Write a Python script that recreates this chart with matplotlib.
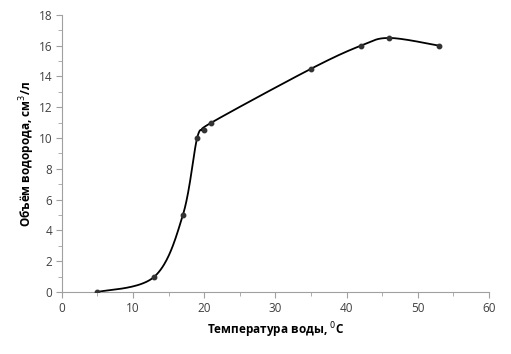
import numpy as np
import matplotlib
matplotlib.use("Agg")
import matplotlib.pyplot as plt
from matplotlib.ticker import MultipleLocator

temperature = [5, 13, 17, 19, 20, 21, 35, 42, 46, 53]
hydrogen = [0, 1, 5, 10, 10.5, 11, 14.5, 16, 16.5, 16]

plt.rcParams['font.family'] = ['Open Sans', 'DejaVu Sans']

fig = plt.figure(figsize=(5.11, 3.54), dpi=100)
ax = fig.add_axes([0.121, 0.175, 0.836, 0.783])
ax.set_xlim(0, 60)
ax.set_ylim(0, 18)

# Excel-style smoothing (Bezier, 1/6 tension) in pixel-like space
W, H = 427.0, 277.0
sx, sy = W / 60.0, H / 18.0
P = np.column_stack([np.array(temperature) * sx, np.array(hydrogen) * sy])
n = len(P)
curve = []
t = np.linspace(0, 1, 40)
for i in range(n - 1):
    p0 = P[max(i - 1, 0)]
    p1 = P[i]
    p2 = P[i + 1]
    p3 = P[min(i + 2, n - 1)]
    c1 = p1 + (p2 - p0) / 6.0
    c2 = p2 - (p3 - p1) / 6.0
    seg = ((1 - t)[:, None] ** 3) * p1 + 3 * ((1 - t)[:, None] ** 2) * t[:, None] * c1 \
        + 3 * (1 - t)[:, None] * (t[:, None] ** 2) * c2 + (t[:, None] ** 3) * p2
    curve.append(seg)
curve = np.vstack(curve)
ax.plot(curve[:, 0] / sx, curve[:, 1] / sy, color='black', lw=1.3, zorder=2)
ax.plot(temperature, hydrogen, linestyle='none', marker='o', markersize=3.2,
        color='#333333', zorder=3)

for s in ['top', 'right']:
    ax.spines[s].set_visible(False)
for s in ['left', 'bottom']:
    ax.spines[s].set_color('#a0a0a0')
    ax.spines[s].set_linewidth(0.8)

ax.xaxis.set_major_locator(MultipleLocator(10))
ax.xaxis.set_minor_locator(MultipleLocator(5))
ax.yaxis.set_major_locator(MultipleLocator(2))
ax.yaxis.set_minor_locator(MultipleLocator(1))
ax.tick_params(which='major', direction='out', length=4, color='#a0a0a0',
               labelsize=8.5, labelcolor='#404040', pad=3)
ax.tick_params(which='minor', direction='out', length=3, color='#a0a0a0')

ax.set_xlabel('Температура воды, $^{0}$C', fontsize=8.5, fontweight='bold', labelpad=4)
ax.set_ylabel('Объём водорода, см$^{3}$/л', fontsize=8.5, fontweight='bold', labelpad=1)

fig.savefig('out.png', dpi=100)
